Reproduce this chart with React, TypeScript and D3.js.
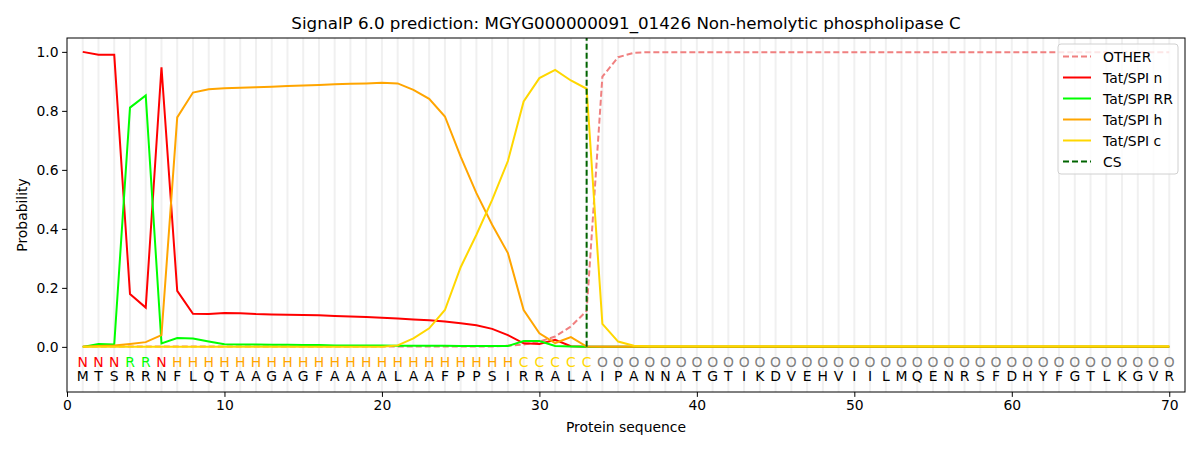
import React, { useRef, useEffect } from "react"
import * as d3 from "d3"

const sequence = "MTSRRNFLQTAAGAGFAAAALAAFPPSIRRALAIPANNATGTIKDVEHVIILMQENRSFDHYFGTLKGVR".split("")
const labels = "NNNRRNHHHHHHHHHHHHHHHHHHHHHHCCCCCOOOOOOOOOOOOOOOOOOOOOOOOOOOOOOOOOOOOO".split("")

const zeros = (n: number, v = 0.001) => Array(n).fill(v)

const otherValues = [
  ...zeros(27, 0.001), 0.004, 0.008, 0.018, 0.035, 0.069, 0.122, 0.916, 0.982, 0.997, ...zeros(34, 0.999),
]
const nValues = [
  1.0, 0.99, 0.99, 0.179, 0.133, 0.948, 0.19, 0.112, 0.111, 0.115, 0.114, 0.111, 0.11, 0.109, 0.108,
  0.107, 0.105, 0.103, 0.101, 0.099, 0.096, 0.093, 0.09, 0.086, 0.08, 0.073, 0.061, 0.04, 0.012, 0.01,
  0.024, 0.002, ...zeros(38, 0.0),
]
const rrValues = [
  0.0, 0.01, 0.008, 0.811, 0.852, 0.012, 0.03, 0.028, 0.018, 0.009, 0.008, 0.008, 0.007, 0.007, 0.006,
  0.006, 0.005, 0.005, 0.005, 0.005, 0.004, 0.004, 0.004, 0.004, 0.003, 0.003, 0.003, 0.003, 0.02, 0.02,
  0.003, 0.001, ...zeros(38, 0.0),
]
const hValues = [
  0.0, 0.003, 0.005, 0.01, 0.016, 0.04, 0.778, 0.862, 0.873, 0.877, 0.878, 0.88, 0.882, 0.884, 0.886,
  0.888, 0.89, 0.892, 0.893, 0.895, 0.893, 0.871, 0.841, 0.781, 0.645, 0.521, 0.414, 0.318, 0.125, 0.046,
  0.013, 0.033, 0.001, ...zeros(37, 0.0),
]
const cValues = [
  ...zeros(20, 0.0), 0.005, 0.029, 0.063, 0.125, 0.27, 0.38, 0.498, 0.63, 0.832, 0.911, 0.939, 0.903,
  0.875, 0.078, 0.018, 0.004, ...zeros(34, 0.002),
]

const series = [
  { name: "OTHER", values: otherValues, color: "#f08080", dash: "6,3" },
  { name: "Tat/SPI n", values: nValues, color: "#ff0000", dash: null },
  { name: "Tat/SPI RR", values: rrValues, color: "#00ff00", dash: null },
  { name: "Tat/SPI h", values: hValues, color: "#ffa500", dash: null },
  { name: "Tat/SPI c", values: cValues, color: "#ffd700", dash: null },
]

const labelColors: Record<string, string> = { N: "#ff0000", R: "#00ff00", H: "#ffa500", C: "#ffd700", O: "#808080" }

const cleavageSite = 33
const xTicks = [0, 10, 20, 30, 40, 50, 60, 70]
const yTicks = [0, 0.2, 0.4, 0.6, 0.8, 1.0]

const width = 1200
const height = 450
const margin = { top: 38, right: 15, bottom: 58, left: 67 }
const font = "DejaVu Sans, sans-serif"

const App: React.FC = () => {
  const svgRef = useRef<SVGSVGElement | null>(null)

  useEffect(() => {
    if (!svgRef.current) return
    const svg = d3.select(svgRef.current)
    svg.selectAll("*").remove()

    const x = d3.scaleLinear().domain([0, 71]).range([margin.left, width - margin.right])
    const y = d3.scaleLinear().domain([-0.153, 1.047]).range([height - margin.bottom, margin.top])
    const positions = d3.range(1, sequence.length + 1)

    // light grid lines at each residue
    svg.append("g")
      .selectAll("line")
      .data(positions)
      .join("line")
      .attr("x1", (d) => x(d))
      .attr("x2", (d) => x(d))
      .attr("y1", margin.top)
      .attr("y2", height - margin.bottom)
      .attr("stroke", "#f0f0f0")
      .attr("stroke-width", 2)

    const line = d3
      .line<number>()
      .x((_, i) => x(i + 1))
      .y((d) => y(d))

    series.forEach((s) => {
      svg.append("path")
        .datum(s.values)
        .attr("fill", "none")
        .attr("stroke", s.color)
        .attr("stroke-width", 2)
        .attr("stroke-dasharray", s.dash)
        .attr("d", line)
    })

    svg.append("line")
      .attr("x1", x(cleavageSite))
      .attr("x2", x(cleavageSite))
      .attr("y1", y(0))
      .attr("y2", margin.top)
      .attr("stroke", "#006400")
      .attr("stroke-width", 2)
      .attr("stroke-dasharray", "6,3")

    // region labels and residues
    svg.append("g")
      .selectAll("text")
      .data(labels)
      .join("text")
      .attr("x", (_, i) => x(i + 1))
      .attr("y", y(-0.05))
      .attr("dy", "0.36em")
      .attr("text-anchor", "middle")
      .attr("font-family", font)
      .attr("font-size", 13.9)
      .attr("fill", (d) => labelColors[d])
      .text((d) => d)

    svg.append("g")
      .selectAll("text")
      .data(sequence)
      .join("text")
      .attr("x", (_, i) => x(i + 1))
      .attr("y", y(-0.1))
      .attr("dy", "0.36em")
      .attr("text-anchor", "middle")
      .attr("font-family", font)
      .attr("font-size", 13.9)
      .attr("fill", "#000")
      .text((d) => d)

    // axes frame
    svg.append("rect")
      .attr("x", margin.left)
      .attr("y", margin.top)
      .attr("width", width - margin.left - margin.right)
      .attr("height", height - margin.top - margin.bottom)
      .attr("fill", "none")
      .attr("stroke", "#000")
      .attr("stroke-width", 1)

    const xAxis = svg.append("g")
      .attr("transform", `translate(0,${height - margin.bottom})`)
      .call(d3.axisBottom(x).tickValues(xTicks).tickSize(4.9).tickPadding(3.5).tickFormat(d3.format("d")))
    const yAxis = svg.append("g")
      .attr("transform", `translate(${margin.left},0)`)
      .call(d3.axisLeft(y).tickValues(yTicks).tickSize(4.9).tickPadding(3.5).tickFormat(d3.format(".1f")))
    ;[xAxis, yAxis].forEach((a) => {
      a.select(".domain").remove()
      a.selectAll("text").attr("font-family", font).attr("font-size", 13.9).attr("fill", "#000")
      a.selectAll("line").attr("stroke", "#000").attr("stroke-width", 1)
    })

    svg.append("text")
      .attr("x", (margin.left + width - margin.right) / 2)
      .attr("y", 29)
      .attr("text-anchor", "middle")
      .attr("font-family", font)
      .attr("font-size", 16.7)
      .text("SignalP 6.0 prediction: MGYG000000091_01426 Non-hemolytic phospholipase C")

    svg.append("text")
      .attr("x", (margin.left + width - margin.right) / 2)
      .attr("y", 432)
      .attr("text-anchor", "middle")
      .attr("font-family", font)
      .attr("font-size", 13.9)
      .text("Protein sequence")

    svg.append("text")
      .attr("transform", `translate(27,${(margin.top + height - margin.bottom) / 2}) rotate(-90)`)
      .attr("text-anchor", "middle")
      .attr("font-family", font)
      .attr("font-size", 13.9)
      .text("Probability")

    // legend
    const legendItems = [
      ...series.map((s) => ({ name: s.name, color: s.color, dash: s.dash })),
      { name: "CS", color: "#006400", dash: "6,3" },
    ]
    const lg = svg.append("g").attr("transform", "translate(1058,44)")
    lg.append("rect")
      .attr("width", 120)
      .attr("height", 130)
      .attr("rx", 3)
      .attr("fill", "#fff")
      .attr("fill-opacity", 0.8)
      .attr("stroke", "#d0d0d0")
    legendItems.forEach((item, i) => {
      const cy = 12.5 + i * 21
      lg.append("line")
        .attr("x1", 5)
        .attr("x2", 33)
        .attr("y1", cy)
        .attr("y2", cy)
        .attr("stroke", item.color)
        .attr("stroke-width", 2)
        .attr("stroke-dasharray", item.dash)
      lg.append("text")
        .attr("x", 45)
        .attr("y", cy)
        .attr("dy", "0.36em")
        .attr("font-family", font)
        .attr("font-size", 13.9)
        .text(item.name)
    })
  }, [])

  return (
    <svg
      ref={svgRef}
      width={width}
      height={height}
      style={{ position: "absolute", left: 0, top: 0, background: "#fff" }}
    ></svg>
  )
}

export default App
